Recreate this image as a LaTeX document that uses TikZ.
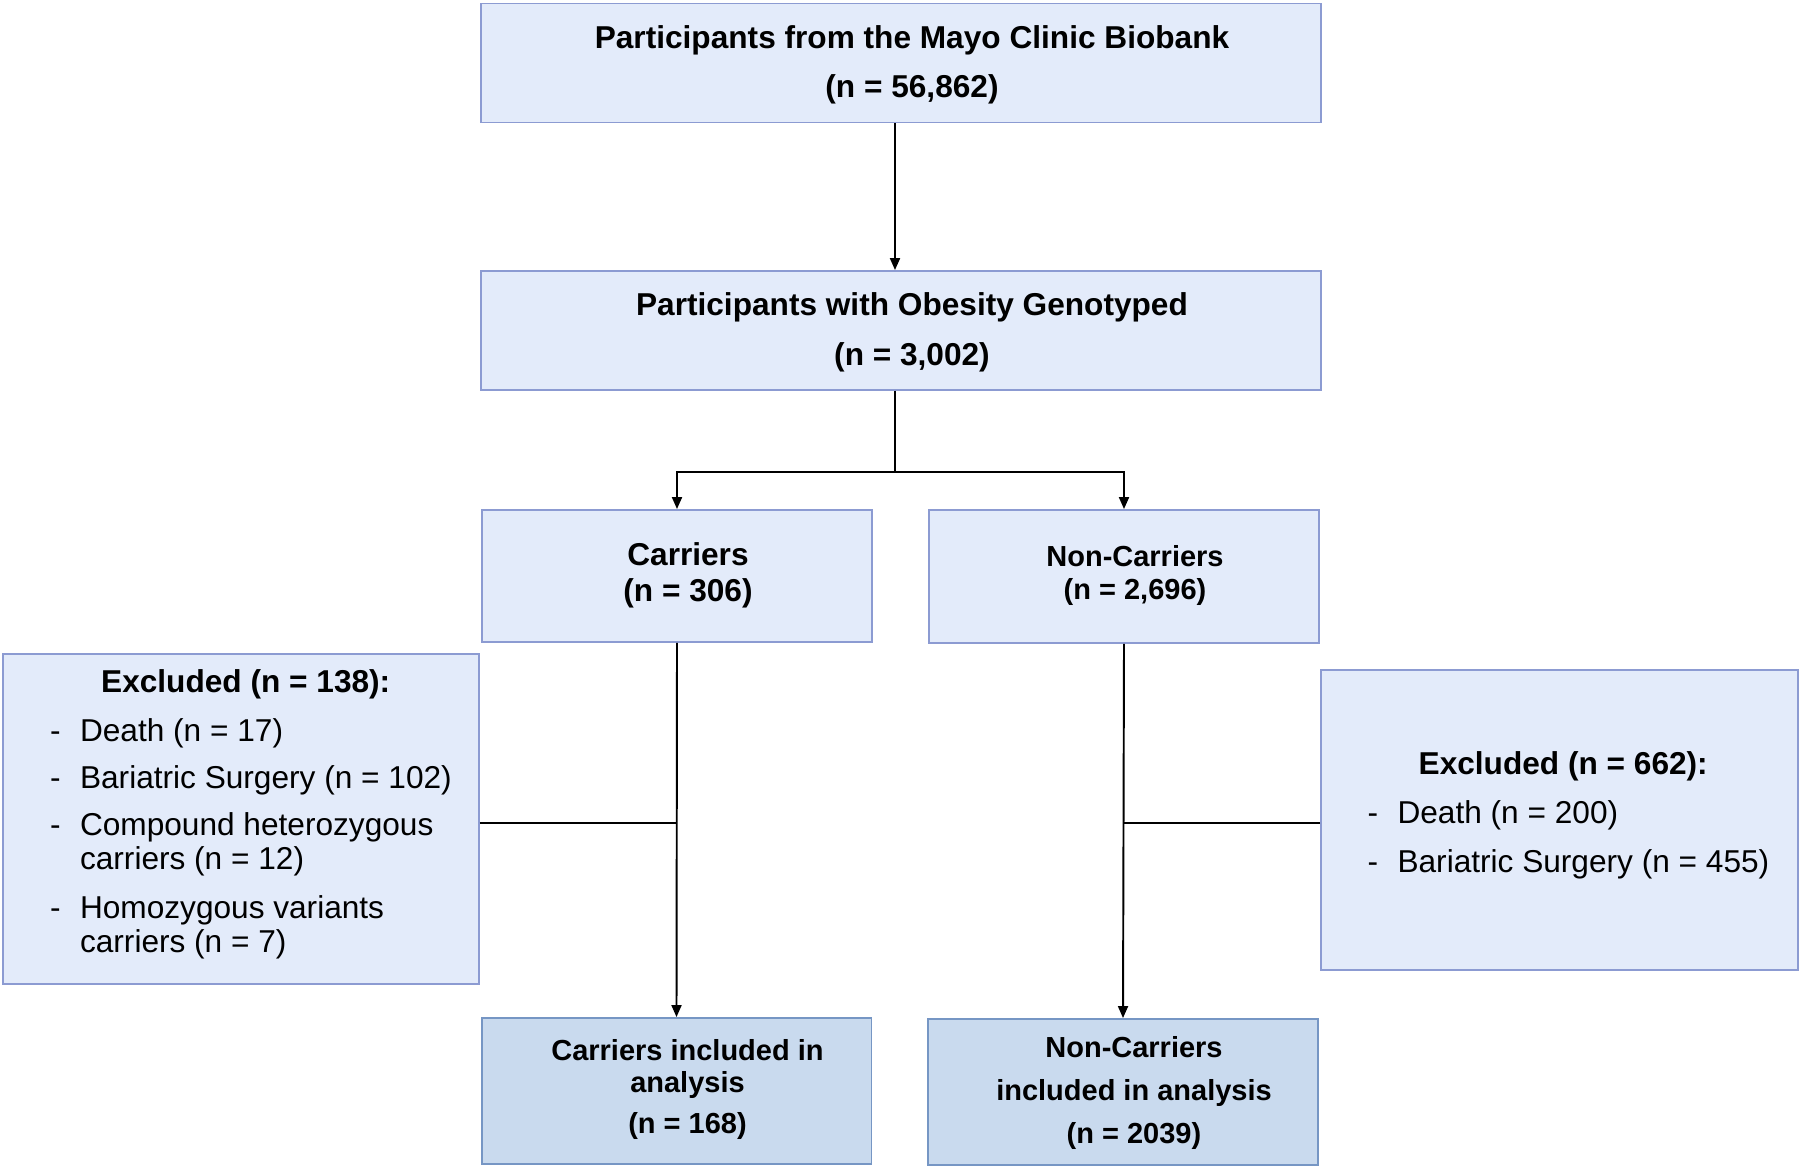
\documentclass[tikz,border=0pt]{standalone}
\usepackage{fontspec}
\setmainfont{Liberation Sans}
\usetikzlibrary{positioning, arrows.meta}
\definecolor{boxfill}{RGB}{227,235,250}
\definecolor{boxline}{RGB}{140,155,210}
\definecolor{inclfill}{RGB}{201,218,238}
\definecolor{inclline}{RGB}{118,150,196}
% box text sits a little right of the box centre
\newcommand{\boxtext}[1]{\begin{tabular}{@{\hspace{0.44cm}}c@{}}#1\end{tabular}}

\begin{document}
\begin{tikzpicture}[x=0.02cm, y=-0.02cm,
  stagebox/.style={draw=boxline, fill=boxfill, line width=1.1pt, inner sep=0pt},
  finalbox/.style={stagebox, draw=inclline, fill=inclfill,
    minimum width=7.8cm, minimum height=2.92cm, font=\fontsize{16.5}{18}\selectfont\bfseries},
  flow/.style={line width=1.1pt, -{Triangle[length=0.24cm, width=0.2cm]}},
  link/.style={line width=1.1pt}]
  \useasboundingbox (0,0) rectangle (1800,1166);

  % Cohort boxes
  \node[stagebox, minimum width=16.8cm, minimum height=2.38cm, font=\fontsize{18}{28}\selectfont\bfseries]
    (biobank) at (901,63) {\boxtext{Participants from the Mayo Clinic Biobank\\(n = 56,862)}};
  \node[stagebox, minimum width=16.8cm, minimum height=2.38cm, font=\fontsize{18}{28.5}\selectfont\bfseries]
    (genotyped) at (901,330.5) {\boxtext{Participants with Obesity Genotyped\\(n = 3,002)}};

  % Groups
  \node[stagebox, minimum width=7.8cm, minimum height=2.64cm, font=\fontsize{18}{20.5}\selectfont\bfseries]
    (carriers) at (677,576) {\boxtext{Carriers\\(n = 306)}};
  \node[stagebox, minimum width=7.8cm, minimum height=2.66cm, font=\fontsize{16.5}{18.7}\selectfont\bfseries]
    (noncarriers) at (1124,576.5) {\boxtext{Non-Carriers\\(n = 2,696)}};

  % Exclusions
  \node[stagebox, minimum width=9.52cm, minimum height=6.6cm, font=\fontsize{18}{19.3}\selectfont]
    (exclcarriers) at (241,819) {%
    \raisebox{2pt}[\height][\depth]{\begin{tabular}{@{\hspace{0.4cm}}l@{\hspace{11pt}}l@{}}
      \multicolumn{2}{@{\hspace{0.4cm}}c}{\bfseries Excluded (n = 138):}\\[9pt]
      - & Death (n = 17)\\[7.4pt]
      - & Bariatric Surgery (n = 102)\\[7.4pt]
      - & Compound heterozygous\\
        & carriers (n = 12)\\[8.5pt]
      - & Homozygous variants\\
        & carriers (n = 7)
    \end{tabular}}};
  \node[stagebox, minimum width=9.54cm, minimum height=6cm, font=\fontsize{18}{19.3}\selectfont]
    (exclnoncarriers) at (1559.5,820) {%
    \raisebox{2pt}[\height][\depth]{\begin{tabular}{@{\hspace{0.36cm}}l@{\hspace{11pt}}l@{}}
      \multicolumn{2}{@{\hspace{0.36cm}}c}{\bfseries Excluded (n = 662):}\\[8.5pt]
      - & Death (n = 200)\\[8.5pt]
      - & Bariatric Surgery (n = 455)
    \end{tabular}}};

  % Analysed
  \node[finalbox] (inclcarriers) at (676.5,1091) {\boxtext{Carriers included in\\analysis\\[5.5pt](n = 168)}};
  \node[finalbox, font=\fontsize{16.5}{24.5}\selectfont\bfseries]
    (inclnoncarriers) at (1123,1092) {\boxtext{Non-Carriers\\included in analysis\\(n = 2039)}};

  % Connectors
  \draw[flow] ([xshift=-0.12cm]biobank.south) -- ([xshift=-0.12cm]genotyped.north);
  \draw[flow] ([xshift=-0.12cm]genotyped.south) -- ++(0,81) -| (carriers.north);
  \draw[flow] ([xshift=-0.12cm]genotyped.south) -- ++(0,81) -| (noncarriers.north);
  \draw[flow] (carriers.south) -- (inclcarriers.north);
  \draw[flow] (noncarriers.south) -- (inclnoncarriers.north);
  \draw[link] ([yshift=-0.08cm]exclcarriers.east) -- ([yshift=-0.08cm]exclcarriers.east -| carriers.south);
  \draw[link] ([yshift=-0.06cm]exclnoncarriers.west) -- ([yshift=-0.06cm]exclnoncarriers.west -| noncarriers.south);
\end{tikzpicture}
\end{document}
